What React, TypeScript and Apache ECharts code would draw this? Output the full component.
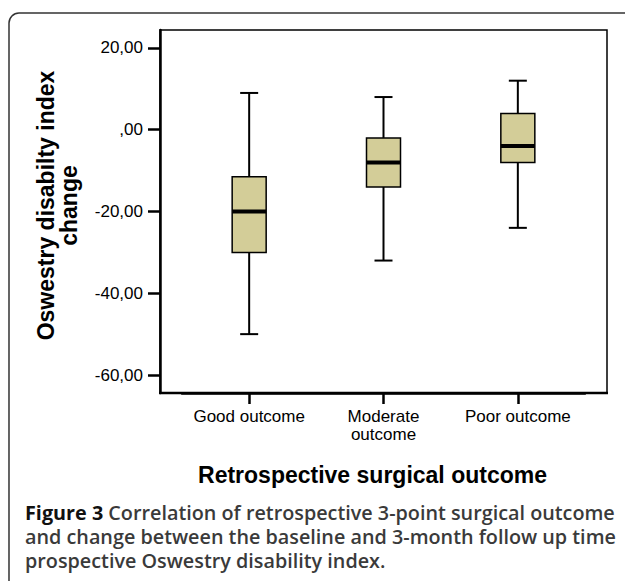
import React, { useEffect, useRef } from "react";
import * as echarts from "echarts";

const categories = ["Good outcome", "Moderate\noutcome", "Poor outcome"];
const minValues = [-50, -32, -24];
const q1Values = [-30, -14, -8];
const medianValues = [-20, -8, -4];
const q3Values = [-11.5, -2, 4];
const maxValues = [9, 8, 12];
const yTickValues = [-60, -40, -20, 0, 20];

const yAxisTitle = "Oswestry disabilty index\nchange";
const xAxisTitle = "Retrospective surgical outcome";
const captionBold = "Figure 3";
const captionText =
  " Correlation of retrospective 3-point surgical outcome\nand change between the baseline and 3-month follow up time\nprospective Oswestry disability index.";

const FONT = "'Liberation Sans', Arial, sans-serif";
const CAP_FONT = "'Open Sans', sans-serif";
const CAP_SIZE = 19.8;

export default function App() {
  const ref = useRef<HTMLDivElement>(null);

  useEffect(() => {
    if (!ref.current) return;
    const chart = echarts.init(ref.current, undefined, { renderer: "svg" });
    const data = categories.map((_, i) => [
      i,
      minValues[i],
      q1Values[i],
      medianValues[i],
      q3Values[i],
      maxValues[i],
    ]);

    const renderItem = (params: any, api: any) => {
      const idx = api.value(0);
      const pMin = api.coord([idx, api.value(1)]);
      const pQ1 = api.coord([idx, api.value(2)]);
      const pMed = api.coord([idx, api.value(3)]);
      const pQ3 = api.coord([idx, api.value(4)]);
      const pMax = api.coord([idx, api.value(5)]);
      const cx = pMin[0];
      const bw = 34;
      const cw = 18;
      const lineStyle = { stroke: "#000", lineWidth: 2 };
      return {
        type: "group",
        children: [
          { type: "line", shape: { x1: cx, y1: pQ3[1], x2: cx, y2: pMax[1] }, style: lineStyle },
          { type: "line", shape: { x1: cx, y1: pQ1[1], x2: cx, y2: pMin[1] }, style: lineStyle },
          { type: "line", shape: { x1: cx - cw / 2, y1: pMax[1], x2: cx + cw / 2, y2: pMax[1] }, style: lineStyle },
          { type: "line", shape: { x1: cx - cw / 2, y1: pMin[1], x2: cx + cw / 2, y2: pMin[1] }, style: lineStyle },
          {
            type: "rect",
            shape: { x: cx - bw / 2, y: pQ3[1], width: bw, height: pQ1[1] - pQ3[1] },
            style: { fill: "#d3cd98", stroke: "#000", lineWidth: 1.5 },
          },
          {
            type: "line",
            shape: { x1: cx - bw / 2, y1: pMed[1], x2: cx + bw / 2, y2: pMed[1] },
            style: { stroke: "#000", lineWidth: 4 },
          },
        ],
      };
    };

    chart.setOption({
      animation: false,
      backgroundColor: "#fff",
      textStyle: { fontFamily: FONT },
      grid: { left: 182, top: 30, width: 403, height: 363 },
      xAxis: {
        type: "category",
        data: categories,
        boundaryGap: true,
        axisLine: { show: true, onZero: false, lineStyle: { color: "#000", width: 2.5 } },
        axisTick: { show: true, alignWithLabel: true, length: 11, lineStyle: { color: "#000", width: 2.5 } },
        axisLabel: { color: "#000", fontSize: 17, lineHeight: 18, margin: 14, interval: 0, fontFamily: FONT },
        name: xAxisTitle,
        nameLocation: "middle",
        nameGap: 70,
        nameTextStyle: {
          color: "#000",
          fontSize: 23,
          fontWeight: "bold",
          fontFamily: FONT,
          padding: [0, 22, 0, 0],
        },
      },
      yAxis: {
        type: "value",
        min: -64.4,
        max: 24.4,
        offset: 22,
        splitLine: { show: false },
        axisLine: { show: true, lineStyle: { color: "#000", width: 2.5 } },
        axisTick: { show: true, length: 12, customValues: yTickValues, lineStyle: { color: "#000", width: 2.5 } },
        axisLabel: {
          color: "#000",
          fontSize: 17,
          margin: 17,
          fontFamily: FONT,
          customValues: yTickValues,
          formatter: (v: number) => (v === 0 ? ",00" : v.toFixed(2).replace(".", ",")),
        },
        name: yAxisTitle,
        nameLocation: "middle",
        nameGap: 80,
        nameRotate: 90,
        nameTextStyle: {
          color: "#000",
          fontSize: 23,
          fontWeight: "bold",
          lineHeight: 23,
          fontFamily: FONT,
          padding: [0, 0, 0, 12],
        },
      },
      series: [
        {
          type: "custom",
          renderItem,
          data,
          encode: { x: 0, y: [1, 2, 3, 4, 5] },
          clip: false,
        },
      ],
      graphic: [
        {
          type: "rect",
          shape: { x: 9, y: 13, width: 720, height: 720, r: 10 },
          style: { fill: "none", stroke: "#333", lineWidth: 1.5 },
          silent: true,
        },
        {
          type: "rect",
          shape: { x: 160, y: 30, width: 447, height: 363 },
          style: { fill: "none", stroke: "#000", lineWidth: 1.5 },
          silent: true,
        },
        {
          type: "line",
          shape: { x1: 159, y1: 393, x2: 608, y2: 393 },
          style: { stroke: "#000", lineWidth: 2.5 },
          silent: true,
        },
        {
          type: "text",
          x: 25,
          y: 500,
          style: {
            text: "{b|" + captionBold + "}{t|" + captionText.split("\n").join("}\n{t|") + "}",
            fontFamily: CAP_FONT,
            fontSize: CAP_SIZE,
            lineHeight: 24,
            fill: "#3a3a3a",
            fontWeight: 600,
            rich: {
              b: { fontFamily: CAP_FONT, fontSize: CAP_SIZE, lineHeight: 24, fontWeight: "bold", fill: "#111" },
              t: { fontFamily: CAP_FONT, fontSize: CAP_SIZE, lineHeight: 24, fontWeight: 600, fill: "#3a3a3a" },
            },
          },
          silent: true,
        },
      ],
    });
    return () => chart.dispose();
  }, []);

  return (
    <div
      ref={ref}
      style={{ position: "fixed", left: 0, top: 0, width: 625, height: 581, background: "#fff" }}
    />
  );
}
